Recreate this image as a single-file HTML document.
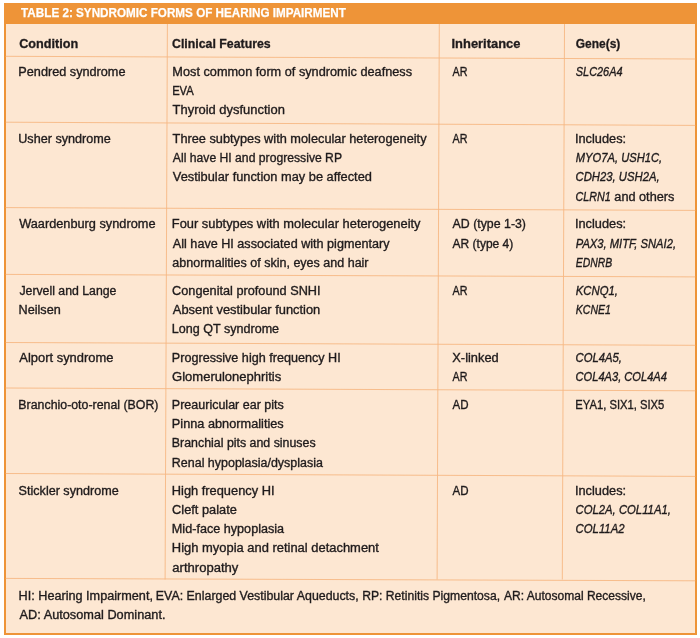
<!DOCTYPE html>
<html lang="en"><head><meta charset="utf-8"><title>Table 2: Syndromic forms of hearing impairment</title>
<style>
html,body{margin:0;padding:0;background:#fff;}
body{width:700px;height:638px;position:relative;overflow:hidden;font-family:"Liberation Sans",sans-serif;color:#1f1b1c;}
#frame{position:absolute;left:4px;top:2.7px;width:692.8px;height:632.3px;background:#ee9438;}
#inner{position:absolute;left:5.7px;top:24px;width:689.6px;height:609px;background:#fde7d2;}
svg{position:absolute;left:0;top:0;}
.l{position:absolute;left:0;top:0;white-space:nowrap;font-size:12.5px;line-height:20px;height:20px;transform-origin:0 0;-webkit-text-stroke:0.35px currentColor;}
.b{font-weight:bold;-webkit-text-stroke-width:0.3px;}
.t{font-weight:bold;color:#fff;-webkit-text-stroke-width:0.25px;}
 i{font-style:italic;}
</style></head><body>
<div id="frame"></div><div id="inner"></div>
<svg width="700" height="638" viewBox="0 0 700 638">
<line x1="5.7" y1="56.30" x2="695.3" y2="59.00" stroke="#f6b883" stroke-width="0.9"/>
<line x1="5.7" y1="122.20" x2="695.3" y2="125.40" stroke="#f6b883" stroke-width="0.9"/>
<line x1="5.7" y1="207.60" x2="695.3" y2="210.40" stroke="#f6b883" stroke-width="0.9"/>
<line x1="5.7" y1="274.40" x2="695.3" y2="276.90" stroke="#f6b883" stroke-width="0.9"/>
<line x1="5.7" y1="342.50" x2="695.3" y2="345.30" stroke="#f6b883" stroke-width="0.9"/>
<line x1="5.7" y1="388.00" x2="695.3" y2="390.80" stroke="#f6b883" stroke-width="0.9"/>
<line x1="5.7" y1="473.50" x2="695.3" y2="476.40" stroke="#f6b883" stroke-width="0.9"/>
<line x1="5.7" y1="578.40" x2="695.3" y2="580.80" stroke="#f6b883" stroke-width="0.9"/>
<line x1="167.40" y1="24" x2="165.10" y2="579.5" stroke="#f6b883" stroke-width="0.9"/>
<line x1="439.30" y1="24" x2="437.10" y2="579.5" stroke="#f6b883" stroke-width="0.9"/>
<line x1="564.50" y1="24" x2="562.30" y2="579.5" stroke="#f6b883" stroke-width="0.9"/>
</svg>
<div role="table" aria-label="Table 2: Syndromic forms of hearing impairment">
<div role="presentation">
<div role="caption">
<div class="l t" id="l0" style="transform:translate(21.10px,3.00px) scaleX(0.9501);font-size:12.3px;">TABLE 2: SYNDROMIC FORMS OF HEARING IMPAIRMENT</div>
</div></div>
<div role="row">
<div role="columnheader">
<div class="l b" id="l1" style="transform:translate(19.15px,34.00px) scaleX(1.0139);">Condition</div>
</div><div role="columnheader">
<div class="l b" id="l2" style="transform:translate(172.05px,34.00px) scaleX(0.9859);">Clinical Features</div>
</div><div role="columnheader">
<div class="l b" id="l3" style="transform:translate(451.53px,34.00px) scaleX(1.0327);">Inheritance</div>
</div><div role="columnheader">
<div class="l b" id="l4" style="transform:translate(575.76px,34.00px) scaleX(0.9574);">Gene(s)</div>
</div></div>
<div role="row">
<div role="cell">
<div class="l " id="l5" style="transform:translate(18.34px,62.00px) scaleX(1.0144);">Pendred syndrome</div>
</div><div role="cell">
<div class="l " id="l6" style="transform:translate(172.34px,62.00px) scaleX(1.0179);">Most common form of syndromic deafness</div>
<div class="l " id="l7" style="transform:translate(172.13px,81.00px) scaleX(0.8979);">EVA</div>
<div class="l " id="l8" style="transform:translate(172.60px,100.00px) scaleX(1.0357);">Thyroid dysfunction</div>
</div><div role="cell">
<div class="l " id="l9" style="transform:translate(452.51px,62.00px) scaleX(0.8580);">AR</div>
</div><div role="cell">
<div class="l " id="l10" style="transform:translate(575.78px,62.00px) scaleX(0.8736);"><i>SLC26A4</i></div>
</div></div>
<div role="row">
<div role="cell">
<div class="l " id="l11" style="transform:translate(18.24px,129.00px) scaleX(1.0088);">Usher syndrome</div>
</div><div role="cell">
<div class="l " id="l12" style="transform:translate(172.60px,129.00px) scaleX(1.0209);">Three subtypes with molecular heterogeneity</div>
<div class="l " id="l13" style="transform:translate(172.84px,148.00px) scaleX(0.9741);">All have HI and progressive RP</div>
<div class="l " id="l14" style="transform:translate(172.86px,167.00px) scaleX(1.0242);">Vestibular function may be affected</div>
</div><div role="cell">
<div class="l " id="l15" style="transform:translate(452.51px,129.00px) scaleX(0.8580);">AR</div>
</div><div role="cell">
<div class="l " id="l16" style="transform:translate(574.98px,129.00px) scaleX(1.0208);">Includes:</div>
<div class="l " id="l17" style="transform:translate(575.78px,148.00px) scaleX(0.8947);"><i>MYO7A, USH1C,</i></div>
<div class="l " id="l18" style="transform:translate(575.55px,167.00px) scaleX(0.9030);"><i>CDH23, USH2A,</i></div>
<div class="l " id="l19" style="transform:translate(575.57px,187.00px) scaleX(0.8579);"><i>CLRN1</i></div>
<div class="l " id="l20" style="transform:translate(614.35px,187.00px) scaleX(1.0154);">and others</div>
</div></div>
<div role="row">
<div role="cell">
<div class="l " id="l21" style="transform:translate(19.16px,214.00px) scaleX(1.0202);">Waardenburg syndrome</div>
</div><div role="cell">
<div class="l " id="l22" style="transform:translate(171.83px,214.00px) scaleX(1.0284);">Four subtypes with molecular heterogeneity</div>
<div class="l " id="l23" style="transform:translate(172.85px,234.00px) scaleX(1.0091);">All have HI associated with pigmentary</div>
<div class="l " id="l24" style="transform:translate(172.35px,253.00px) scaleX(1.0013);">abnormalities of skin, eyes and hair</div>
</div><div role="cell">
<div class="l " id="l25" style="transform:translate(452.55px,214.00px) scaleX(0.9878);">AD (type 1-3)</div>
<div class="l " id="l26" style="transform:translate(452.54px,234.00px) scaleX(0.9603);">AR (type 4)</div>
</div><div role="cell">
<div class="l " id="l27" style="transform:translate(574.98px,214.00px) scaleX(1.0208);">Includes:</div>
<div class="l " id="l28" style="transform:translate(575.78px,234.00px) scaleX(0.8941);"><i>PAX3, MITF, SNAI2,</i></div>
<div class="l " id="l29" style="transform:translate(575.79px,253.00px) scaleX(0.8324);"><i>EDNRB</i></div>
</div></div>
<div role="row">
<div role="cell">
<div class="l " id="l30" style="transform:translate(19.40px,281.00px) scaleX(0.9832);">Jervell and Lange</div>
<div class="l " id="l31" style="transform:translate(18.54px,300.00px) scaleX(1.0112);">Neilsen</div>
</div><div role="cell">
<div class="l " id="l32" style="transform:translate(172.09px,281.00px) scaleX(1.0173);">Congenital profound SNHI</div>
<div class="l " id="l33" style="transform:translate(172.86px,300.00px) scaleX(1.0298);">Absent vestibular function</div>
<div class="l " id="l34" style="transform:translate(171.85px,319.00px) scaleX(1.0043);">Long QT syndrome</div>
</div><div role="cell">
<div class="l " id="l35" style="transform:translate(452.51px,281.00px) scaleX(0.8580);">AR</div>
</div><div role="cell">
<div class="l " id="l36" style="transform:translate(575.77px,281.00px) scaleX(0.9067);"><i>KCNQ1,</i></div>
<div class="l " id="l37" style="transform:translate(575.79px,300.00px) scaleX(0.8420);"><i>KCNE1</i></div>
</div></div>
<div role="row">
<div role="cell">
<div class="l " id="l38" style="transform:translate(19.36px,348.00px) scaleX(1.0330);">Alport syndrome</div>
</div><div role="cell">
<div class="l " id="l39" style="transform:translate(171.84px,348.00px) scaleX(1.0081);">Progressive high frequency HI</div>
<div class="l " id="l40" style="transform:translate(172.08px,367.00px) scaleX(1.0408);">Glomerulonephritis</div>
</div><div role="cell">
<div class="l " id="l41" style="transform:translate(452.30px,348.00px) scaleX(1.0270);">X-linked</div>
<div class="l " id="l42" style="transform:translate(452.51px,367.00px) scaleX(0.8580);">AR</div>
</div><div role="cell">
<div class="l " id="l43" style="transform:translate(575.55px,348.00px) scaleX(0.9025);"><i>COL4A5,</i></div>
<div class="l " id="l44" style="transform:translate(575.56px,367.00px) scaleX(0.8882);"><i>COL4A3, COL4A4</i></div>
</div></div>
<div role="row">
<div role="cell">
<div class="l " id="l45" style="transform:translate(18.36px,395.00px) scaleX(0.9886);">Branchio-oto-renal (BOR)</div>
</div><div role="cell">
<div class="l " id="l46" style="transform:translate(171.85px,395.00px) scaleX(1.0005);">Preauricular ear pits</div>
<div class="l " id="l47" style="transform:translate(171.84px,414.00px) scaleX(1.0189);">Pinna abnormalities</div>
<div class="l " id="l48" style="transform:translate(171.86px,433.00px) scaleX(0.9899);">Branchial pits and sinuses</div>
<div class="l " id="l49" style="transform:translate(171.85px,453.00px) scaleX(0.9967);">Renal hypoplasia/dysplasia</div>
</div><div role="cell">
<div class="l " id="l50" style="transform:translate(452.53px,395.00px) scaleX(0.9217);">AD</div>
</div><div role="cell">
<div class="l " id="l51" style="transform:translate(575.33px,395.00px) scaleX(0.8980);">EYA1, SIX1, SIX5</div>
</div></div>
<div role="row">
<div role="cell">
<div class="l " id="l52" style="transform:translate(18.60px,481.00px) scaleX(1.0071);">Stickler syndrome</div>
</div><div role="cell">
<div class="l " id="l53" style="transform:translate(171.83px,481.00px) scaleX(1.0260);">High frequency HI</div>
<div class="l " id="l54" style="transform:translate(172.09px,500.00px) scaleX(1.0233);">Cleft palate</div>
<div class="l " id="l55" style="transform:translate(171.84px,519.00px) scaleX(1.0100);">Mid-face hypoplasia</div>
<div class="l " id="l56" style="transform:translate(171.82px,538.00px) scaleX(1.0346);">High myopia and retinal detachment</div>
<div class="l " id="l57" style="transform:translate(172.34px,558.00px) scaleX(1.0435);">arthropathy</div>
</div><div role="cell">
<div class="l " id="l58" style="transform:translate(452.53px,481.00px) scaleX(0.9217);">AD</div>
</div><div role="cell">
<div class="l " id="l59" style="transform:translate(574.98px,481.00px) scaleX(1.0208);">Includes:</div>
<div class="l " id="l60" style="transform:translate(575.55px,500.00px) scaleX(0.9043);"><i>COL2A, COL11A1,</i></div>
<div class="l " id="l61" style="transform:translate(575.55px,519.00px) scaleX(0.9084);"><i>COL11A2</i></div>
</div></div>
<div role="row">
<div role="note">
<div class="l " id="l62" style="transform:translate(18.54px,586.00px) scaleX(1.0130);">HI: Hearing Impairment,</div>
<div class="l " id="l63" style="transform:translate(155.86px,586.00px) scaleX(0.9906);">EVA: Enlarged Vestibular Aqueducts,</div>
<div class="l " id="l64" style="transform:translate(362.17px,586.00px) scaleX(0.9729);">RP: Retinitis Pigmentosa,</div>
<div class="l " id="l65" style="transform:translate(503.94px,586.00px) scaleX(0.9631);">AR: Autosomal Recessive,</div>
<div class="l " id="l66" style="transform:translate(19.55px,605.00px) scaleX(1.0196);">AD: Autosomal Dominant.</div>
</div></div>
</div>
</body></html>
